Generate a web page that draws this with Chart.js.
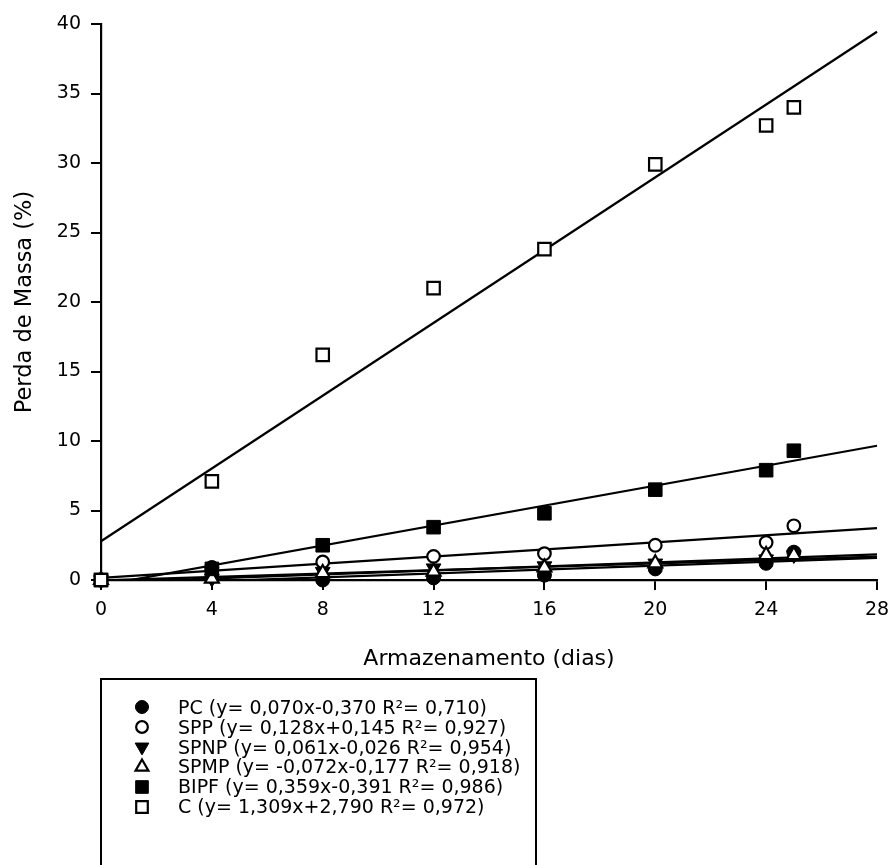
<!DOCTYPE html>
<html>
<head>
<meta charset="utf-8">
<script src="https://cdn.jsdelivr.net/npm/chart.js@4.4.1/dist/chart.umd.min.js"></script>
<style>
html, body { margin: 0; padding: 0; background: #fff; }
#wrap { position: relative; width: 890px; height: 865px; }
</style>
</head>
<body>
<div id="wrap"><canvas id="c" width="890" height="865"></canvas></div>
<script>
// ---- data ----
const days = [0, 4, 8, 12, 16, 20, 24, 25];
const pcValues   = [0, 0.9, 0.0, 0.15, 0.35, 0.8, 1.2, 2.0];
const sppValues  = [0, 0.7, 1.3, 1.7, 1.9, 2.5, 2.7, 3.9];
const spnpValues = [0, 0.1, 0.6, 0.85, 1.0, 1.2, 1.5, 1.8];
const spmpValues = [0, 0.1, 0.5, 0.6, 0.9, 1.2, 1.8, 1.8];
const bipfValues = [0, 0.8, 2.5, 3.8, 4.8, 6.5, 7.9, 9.3];
const cValues    = [0, 7.1, 16.2, 21.0, 23.8, 29.9, 32.7, 34.0];

// regression line end points (x = 0 and x = 28)
const fitX    = [0, 28];
const fitPC   = [-0.37, 1.59];
const fitSPP  = [0.15, 3.73];
const fitSPNP = [-0.03, 1.68];
const fitSPMP = [-0.18, 1.84];
const fitBIPF = [-0.39, 9.66];
const fitC    = [2.79, 39.44];

const seriesLabels = [
  'PC (y= 0,070x-0,370 R\u00B2= 0,710)',
  'SPP (y= 0,128x+0,145 R\u00B2= 0,927)',
  'SPNP (y= 0,061x-0,026 R\u00B2= 0,954)',
  'SPMP (y= -0,072x-0,177 R\u00B2= 0,918)',
  'BIPF (y= 0,359x-0,391 R\u00B2= 0,986)',
  'C (y= 1,309x+2,790 R\u00B2= 0,972)'
];
const xTicks = [0, 4, 8, 12, 16, 20, 24, 28];
const yTicks = [0, 5, 10, 15, 20, 25, 30, 35, 40];
const xTitle = 'Armazenamento (dias)';
const yTitle = 'Perda de Massa (%)';

// ---- build datasets ----
const toPts = (xs, ys) => xs.map((x, i) => ({ x: x, y: ys[i] }));
const markerStyles = [
  { pointStyle: 'circle',   radius: 7,   rotation: 0,   bg: '#000', bw: 1 },
  { pointStyle: 'circle',   radius: 6.3, rotation: 0,   bg: '#fff', bw: 2.2 },
  { pointStyle: 'triangle', radius: 8.5, rotation: 180, bg: '#000', bw: 1 },
  { pointStyle: 'triangle', radius: 8,   rotation: 0,   bg: '#fff', bw: 2.2 },
  { pointStyle: 'rect',     radius: 9.6, rotation: 0,   bg: '#000', bw: 1 },
  { pointStyle: 'rect',     radius: 8.8, rotation: 0,   bg: '#fff', bw: 2.2 }
];
const seriesValues = [pcValues, sppValues, spnpValues, spmpValues, bipfValues, cValues];
const fitValues = [fitPC, fitSPP, fitSPNP, fitSPMP, fitBIPF, fitC];

const datasets = [];
seriesValues.forEach((vals, i) => {
  const m = markerStyles[i];
  datasets.push({
    label: seriesLabels[i],
    data: toPts(days, vals),
    showLine: false,
    pointStyle: m.pointStyle,
    pointRadius: m.radius,
    pointRotation: m.rotation,
    pointBackgroundColor: m.bg,
    pointBorderColor: '#000',
    pointBorderWidth: m.bw,
    order: 5 - i,
    clip: false
  });
});
fitValues.forEach((vals, i) => {
  datasets.push({
    label: 'fit ' + i,
    data: toPts(fitX, vals),
    showLine: true,
    borderColor: '#000',
    borderWidth: 2.2,
    pointRadius: 0,
    fill: false,
    order: 20,
    clip: { left: 1, right: 1, top: 1, bottom: 1 }
  });
});

function drawMarker(ctx, m, x, y) {
  if (Chart.helpers && Chart.helpers.drawPoint) {
    ctx.fillStyle = m.bg;
    ctx.strokeStyle = '#000';
    ctx.lineWidth = m.bw;
    Chart.helpers.drawPoint(ctx, { pointStyle: m.pointStyle, radius: m.radius * 0.93, rotation: m.rotation, borderWidth: m.bw }, x, y);
  }
}

const boxLegend = {
  id: 'boxLegend',
  afterDraw(chart) {
    const ctx = chart.ctx;
    ctx.save();
    ctx.strokeStyle = '#000';
    ctx.lineWidth = 2;
    ctx.beginPath();
    ctx.moveTo(101, 880);
    ctx.lineTo(101, 679);
    ctx.lineTo(536, 679);
    ctx.lineTo(536, 880);
    ctx.stroke();
    seriesLabels.forEach((lab, i) => {
      drawMarker(ctx, markerStyles[i], 142, 707 + i * 20);
      ctx.fillStyle = '#000';
      ctx.font = '19px "DejaVu Sans"';
      ctx.textBaseline = 'middle';
      ctx.textAlign = 'left';
      ctx.fillText(lab, 178, 709 + i * 19.8);
    });
    ctx.restore();
  }
};

Chart.defaults.font.family = '"DejaVu Sans"';
Chart.defaults.color = '#000';

new Chart(document.getElementById('c'), {
  type: 'scatter',
  data: { datasets: datasets },
  plugins: [boxLegend],
  options: {
    responsive: false,
    animation: false,
    devicePixelRatio: 1,
    events: [],
    layout: { padding: { left: 0, right: 13, top: 24, bottom: 0 } },
    plugins: { legend: { display: false }, tooltip: { enabled: false } },
    scales: {
      x: {
        type: 'linear',
        min: 0, max: 28,
        afterBuildTicks: s => { s.ticks = xTicks.map(v => ({ value: v })); },
        afterFit: s => { s.height = 285; s.paddingRight = 10; s.paddingLeft = 10; },
        grid: { display: true, drawOnChartArea: false, drawTicks: true, tickLength: 10, color: '#000', lineWidth: 2 },
        border: { display: true, color: '#000', width: 2.2 },
        ticks: { font: { size: 19 }, padding: 9, color: '#000', maxRotation: 0, autoSkip: false },
        title: { display: true, text: xTitle, font: { size: 22 }, color: '#000', padding: { top: 0, bottom: 193 } }
      },
      y: {
        type: 'linear',
        min: 0, max: 40,
        afterBuildTicks: s => { s.ticks = yTicks.map(v => ({ value: v })); },
        afterFit: s => { s.width = 101; },
        grid: { display: true, drawOnChartArea: false, drawTicks: true, tickLength: 10, color: '#000', lineWidth: 2 },
        border: { display: true, color: '#000', width: 2.2 },
        ticks: { font: { size: 19 }, padding: 10, color: '#000', autoSkip: false },
        title: { display: true, text: yTitle, font: { size: 22.5 }, color: '#000', padding: { top: 12, bottom: 0 } }
      }
    }
  }
});
</script>
</body>
</html>
